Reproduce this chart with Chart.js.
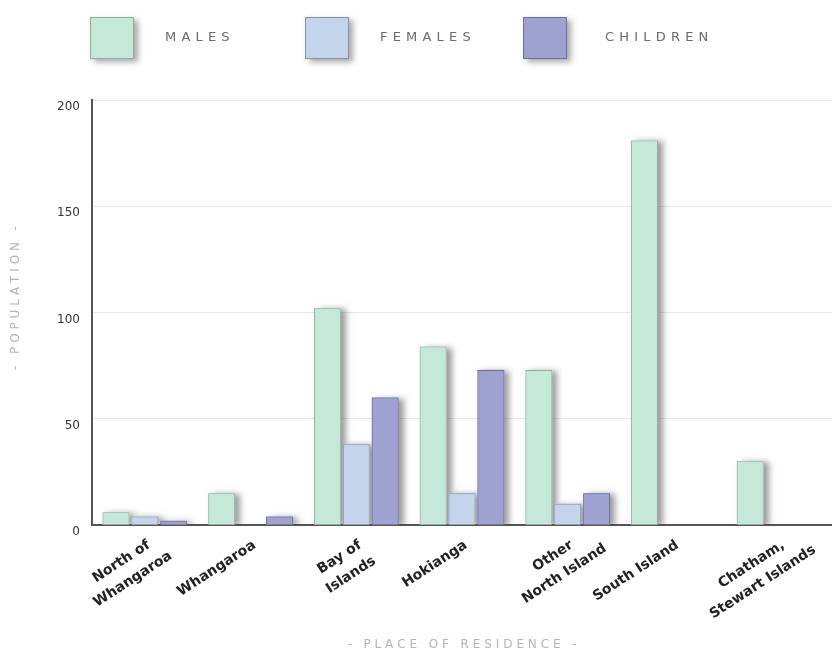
<!DOCTYPE html>
<html>
<head>
<meta charset="utf-8">
<script src="https://cdn.jsdelivr.net/npm/chart.js@4.4.1/dist/chart.umd.min.js"></script>
<style>
  html, body { margin: 0; padding: 0; background: #fff; }
  #wrap { width: 832px; height: 655px; }
</style>
</head>
<body>
<div id="wrap"><canvas id="residence-chart" width="832" height="655"></canvas></div>
<script>
// Population by place of residence
const places = [
  ['North of', 'Whangaroa'],
  'Whangaroa',
  ['Bay of', 'Islands'],
  'Hokianga',
  ['Other', 'North Island'],
  'South Island',
  ['Chatham,', 'Stewart Islands']
];
const males = [6, 15, 102, 84, 73, 181, 30];
const females = [4, 0, 38, 15, 10, 0, 0];
const children = [2, 4, 60, 73, 15, 0, 0];
const yTicks = [0, 50, 100, 150, 200];

const seriesNames = ['MALES', 'FEMALES', 'CHILDREN'];
const fills = ['#c6e8d8', '#c4d4ea', '#9ea2d0'];
const borders = ['#93ab9f', '#8393ae', '#6a6e9e'];

// draw text one letter at a time so it gets wide tracking
function spacedText(ctx, text, x, y, spacing, align) {
  let total = 0;
  for (const ch of text) total += ctx.measureText(ch).width + spacing;
  total -= spacing;
  let cx = align === 'center' ? x - total / 2 : x;
  ctx.textAlign = 'left';
  for (const ch of text) {
    ctx.fillText(ch, cx, y);
    cx += ctx.measureText(ch).width + spacing;
  }
}

// bar elements clip to their own rect, so the drop shadow is painted underneath first
const barShadow = {
  id: 'barShadow',
  beforeDatasetsDraw(chart) {
    const ctx = chart.ctx;
    const area = chart.chartArea;
    ctx.save();
    ctx.beginPath();
    ctx.rect(area.left, area.top - 10, area.right - area.left + 10, area.bottom - area.top + 10);
    ctx.clip();
    ctx.shadowColor = 'rgba(60,60,60,0.5)';
    ctx.shadowBlur = 6;
    ctx.shadowOffsetX = 5;
    ctx.shadowOffsetY = 1;
    chart.getSortedVisibleDatasetMetas().forEach(meta => {
      meta.data.forEach(bar => {
        const { x, y, base, width } = bar.getProps(['x', 'y', 'base', 'width'], true);
        if (Math.abs(base - y) < 1) return;
        ctx.fillStyle = bar.options.backgroundColor;
        ctx.fillRect(x - width / 2, Math.min(y, base), width, Math.abs(base - y));
      });
    });
    ctx.restore();
  }
};

// slanted category names, extra lines centred under the first one
const slantedTicks = {
  id: 'slantedTicks',
  afterDraw(chart) {
    const ctx = chart.ctx;
    const xs = chart.scales.x;
    const angle = -33 * Math.PI / 180;
    const lineHeight = 21;
    ctx.save();
    ctx.fillStyle = '#222';
    ctx.font = 'bold 14px "DejaVu Sans"';
    ctx.textBaseline = 'middle';
    xs.ticks.forEach((t, i) => {
      const lines = [].concat(chart.data.labels[i]);
      const px = xs.getPixelForTick(i) + 4;
      const py = chart.chartArea.bottom + 19;
      ctx.save();
      ctx.translate(px, py);
      ctx.rotate(angle);
      const w0 = ctx.measureText(lines[0]).width;
      ctx.textAlign = 'right';
      ctx.fillText(lines[0], 0, 0);
      ctx.textAlign = 'center';
      for (let k = 1; k < lines.length; k++) {
        ctx.fillText(lines[k], -w0 / 2, k * lineHeight);
      }
      ctx.restore();
    });
    ctx.restore();
  }
};

// legend boxes across the top and the two axis titles
const decorations = {
  id: 'decorations',
  afterDraw(chart) {
    const ctx = chart.ctx;
    const area = chart.chartArea;
    const boxX = [90, 305, 523];
    const textX = [165, 380, 605];
    chart.data.datasets.forEach((ds, i) => {
      const x = boxX[i];
      ctx.save();
      ctx.shadowColor = 'rgba(60,60,60,0.45)';
      ctx.shadowBlur = 6;
      ctx.shadowOffsetX = 4;
      ctx.shadowOffsetY = 3;
      ctx.fillStyle = ds.backgroundColor;
      ctx.fillRect(x, 17, 44, 42);
      ctx.restore();
      ctx.strokeStyle = ds.borderColor;
      ctx.lineWidth = 1;
      ctx.strokeRect(x + 0.5, 17.5, 43, 41);
      ctx.fillStyle = '#6a6a6a';
      ctx.font = '13px "DejaVu Sans"';
      ctx.textBaseline = 'middle';
      spacedText(ctx, ds.label, textX[i], 38, 5.2, 'left');
    });

    ctx.fillStyle = '#b4b4b4';
    ctx.font = '12px "DejaVu Sans"';
    ctx.textBaseline = 'middle';
    spacedText(ctx, '- PLACE OF RESIDENCE -', (area.left + area.right) / 2, 645, 3.9, 'center');

    ctx.save();
    ctx.translate(16, 298);
    ctx.rotate(-Math.PI / 2);
    spacedText(ctx, '- POPULATION -', 0, 0, 3.9, 'center');
    ctx.restore();
  }
};

const ctx = document.getElementById('residence-chart').getContext('2d');
const myChart = new Chart(ctx, {
  type: 'bar',
  data: {
    labels: places,
    datasets: [males, females, children].map((values, i) => ({
      label: seriesNames[i],
      data: values,
      backgroundColor: fills[i],
      borderColor: borders[i],
      borderWidth: 1,
      borderSkipped: 'bottom',
      categoryPercentage: 0.82,
      barPercentage: 0.93
    }))
  },
  options: {
    responsive: false,
    animation: false,
    layout: { padding: { top: 100, right: 0, left: 0, bottom: 0 } },
    plugins: {
      legend: { display: false },
      tooltip: { enabled: false }
    },
    scales: {
      x: {
        grid: { display: false },
        border: { color: '#555', width: 2 },
        ticks: { display: false, autoSkip: false },
        afterFit(scale) { scale.height = 130; }
      },
      y: {
        min: 0,
        max: 200,
        afterBuildTicks(scale) { scale.ticks = yTicks.map(v => ({ value: v })); },
        grid: { color: '#e6e6e6', drawTicks: false },
        border: { color: '#555', width: 2 },
        ticks: {
          color: '#333',
          font: { family: '"DejaVu Sans"', size: 12 },
          padding: 12,
          labelOffset: 7
        },
        afterFit(scale) { scale.width = 92; }
      }
    }
  },
  plugins: [barShadow, slantedTicks, decorations]
});
</script>
</body>
</html>
